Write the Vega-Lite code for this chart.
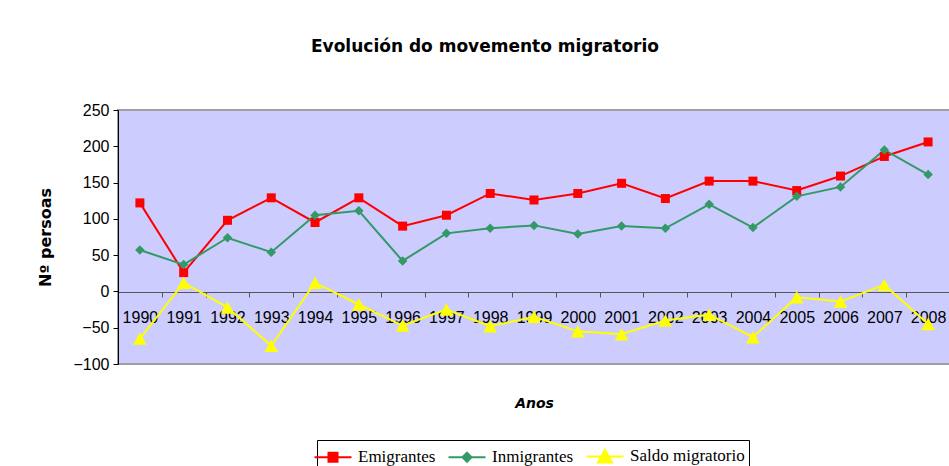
{
  "$schema": "https://vega.github.io/schema/vega-lite/v6.json",
  "width": 832,
  "height": 254,
  "autosize": "none",
  "padding": {"left": 118, "top": 110, "right": 0, "bottom": 102},
  "background": "white",
  "title": {
    "text": "Evolución do movemento migratorio",
    "font": "DejaVu Sans",
    "fontSize": 17,
    "fontWeight": "bold",
    "color": "black",
    "anchor": "middle",
    "dx": -49,
    "offset": 46
  },
  "data": {
    "values": [
      {"ano": "1990", "serie": "Emigrantes", "valor": 122},
      {"ano": "1991", "serie": "Emigrantes", "valor": 26},
      {"ano": "1992", "serie": "Emigrantes", "valor": 98},
      {"ano": "1993", "serie": "Emigrantes", "valor": 129},
      {"ano": "1994", "serie": "Emigrantes", "valor": 95},
      {"ano": "1995", "serie": "Emigrantes", "valor": 129},
      {"ano": "1996", "serie": "Emigrantes", "valor": 90},
      {"ano": "1997", "serie": "Emigrantes", "valor": 105},
      {"ano": "1998", "serie": "Emigrantes", "valor": 135},
      {"ano": "1999", "serie": "Emigrantes", "valor": 126},
      {"ano": "2000", "serie": "Emigrantes", "valor": 135},
      {"ano": "2001", "serie": "Emigrantes", "valor": 149},
      {"ano": "2002", "serie": "Emigrantes", "valor": 128},
      {"ano": "2003", "serie": "Emigrantes", "valor": 152},
      {"ano": "2004", "serie": "Emigrantes", "valor": 152},
      {"ano": "2005", "serie": "Emigrantes", "valor": 139},
      {"ano": "2006", "serie": "Emigrantes", "valor": 159},
      {"ano": "2007", "serie": "Emigrantes", "valor": 186},
      {"ano": "2008", "serie": "Emigrantes", "valor": 206},
      {"ano": "1990", "serie": "Inmigrantes", "valor": 57},
      {"ano": "1991", "serie": "Inmigrantes", "valor": 37},
      {"ano": "1992", "serie": "Inmigrantes", "valor": 74},
      {"ano": "1993", "serie": "Inmigrantes", "valor": 54},
      {"ano": "1994", "serie": "Inmigrantes", "valor": 105},
      {"ano": "1995", "serie": "Inmigrantes", "valor": 111},
      {"ano": "1996", "serie": "Inmigrantes", "valor": 42},
      {"ano": "1997", "serie": "Inmigrantes", "valor": 80},
      {"ano": "1998", "serie": "Inmigrantes", "valor": 87},
      {"ano": "1999", "serie": "Inmigrantes", "valor": 91},
      {"ano": "2000", "serie": "Inmigrantes", "valor": 79},
      {"ano": "2001", "serie": "Inmigrantes", "valor": 90},
      {"ano": "2002", "serie": "Inmigrantes", "valor": 87},
      {"ano": "2003", "serie": "Inmigrantes", "valor": 120},
      {"ano": "2004", "serie": "Inmigrantes", "valor": 88},
      {"ano": "2005", "serie": "Inmigrantes", "valor": 131},
      {"ano": "2006", "serie": "Inmigrantes", "valor": 144},
      {"ano": "2007", "serie": "Inmigrantes", "valor": 195},
      {"ano": "2008", "serie": "Inmigrantes", "valor": 161},
      {"ano": "1990", "serie": "Saldo migratorio", "valor": -65},
      {"ano": "1991", "serie": "Saldo migratorio", "valor": 12},
      {"ano": "1992", "serie": "Saldo migratorio", "valor": -22},
      {"ano": "1993", "serie": "Saldo migratorio", "valor": -75},
      {"ano": "1994", "serie": "Saldo migratorio", "valor": 12},
      {"ano": "1995", "serie": "Saldo migratorio", "valor": -18},
      {"ano": "1996", "serie": "Saldo migratorio", "valor": -47},
      {"ano": "1997", "serie": "Saldo migratorio", "valor": -25},
      {"ano": "1998", "serie": "Saldo migratorio", "valor": -48},
      {"ano": "1999", "serie": "Saldo migratorio", "valor": -35},
      {"ano": "2000", "serie": "Saldo migratorio", "valor": -55},
      {"ano": "2001", "serie": "Saldo migratorio", "valor": -59},
      {"ano": "2002", "serie": "Saldo migratorio", "valor": -40},
      {"ano": "2003", "serie": "Saldo migratorio", "valor": -32},
      {"ano": "2004", "serie": "Saldo migratorio", "valor": -63},
      {"ano": "2005", "serie": "Saldo migratorio", "valor": -8},
      {"ano": "2006", "serie": "Saldo migratorio", "valor": -14},
      {"ano": "2007", "serie": "Saldo migratorio", "valor": 9},
      {"ano": "2008", "serie": "Saldo migratorio", "valor": -45}
    ]
  },
  "encoding": {
    "x": {
      "field": "ano",
      "type": "ordinal",
      "scale": {"type": "band", "paddingInner": 0, "paddingOuter": 0},
      "axis": {
        "title": "Anos",
        "offset": -72,
        "tickBand": "extent",
        "labelAngle": 0,
        "labelFont": "Liberation Sans",
        "labelFontSize": 16,
        "labelColor": "black",
        "labelPadding": 12,
        "tickSize": 5,
        "tickColor": "#555555",
        "domainColor": "#555555",
        "titleFont": "DejaVu Sans",
        "titleFontSize": 14,
        "titleFontWeight": "bold",
        "titleFontStyle": "italic",
        "titleColor": "black",
        "titleY": 111,
        "titleBaseline": "middle",
        "grid": false
      }
    },
    "y": {
      "field": "valor",
      "type": "quantitative",
      "scale": {"domain": [-100, 250], "nice": false},
      "axis": {
        "title": "Nº persoas",
        "values": [-100, -50, 0, 50, 100, 150, 200, 250],
        "labelFont": "Liberation Sans",
        "labelFontSize": 16,
        "labelColor": "black",
        "labelPadding": 4,
        "tickSize": 5,
        "tickColor": "black",
        "domainColor": "black",
        "titleFont": "DejaVu Sans",
        "titleFontSize": 16,
        "titleFontWeight": "bold",
        "titleColor": "black",
        "titleX": -73,
        "titleY": 127,
        "titleBaseline": "middle",
        "titleAlign": "center",
        "grid": false
      }
    }
  },
  "layer": [
    {
      "mark": {"type": "line", "strokeWidth": 2},
      "encoding": {
        "color": {
          "field": "serie",
          "type": "nominal",
          "scale": {
            "domain": ["Emigrantes", "Inmigrantes", "Saldo migratorio"],
            "range": ["#FF0000", "#339966", "#FFFF00"]
          },
          "legend": null
        }
      }
    },
    {
      "mark": {"type": "point", "filled": true, "opacity": 1, "size": 100},
      "encoding": {
        "color": {"field": "serie", "type": "nominal", "legend": null},
        "shape": {
          "field": "serie",
          "type": "nominal",
          "scale": {
            "domain": ["Emigrantes", "Inmigrantes", "Saldo migratorio"],
            "range": ["M-0.9,-0.9H0.9V0.9H-0.9Z", "M0,-0.95L0.95,0L0,0.95L-0.95,0Z", "M0,-1.25L1.35,1.25H-1.35Z"]
          },
          "legend": null
        }
      }
    },
    {
      "transform": [{"filter": "datum.valor > 1000"}],
      "mark": {"type": "point", "filled": true, "opacity": 1, "size": 484, "strokeWidth": 2},
      "encoding": {
        "color": {
          "field": "serie",
          "type": "nominal",
          "legend": {
            "title": null,
            "orient": "none",
            "direction": "horizontal",
            "legendX": 199,
            "legendY": 330,
            "strokeColor": "black",
            "fillColor": "white",
            "padding": 4,
            "labelFont": "Liberation Serif",
            "labelFontSize": 17,
            "labelColor": "black",
            "labelOffset": 13,
            "columnPadding": 8,
            "symbolSize": 484,
            "symbolStrokeWidth": 2
          }
        },
        "stroke": {
          "field": "serie",
          "type": "nominal",
          "scale": {
            "domain": ["Emigrantes", "Inmigrantes", "Saldo migratorio"],
            "range": ["#FF0000", "#339966", "#FFFF00"]
          }
        },
        "shape": {
          "field": "serie",
          "type": "nominal",
          "scale": {
            "domain": ["Emigrantes", "Inmigrantes", "Saldo migratorio"],
            "range": ["M-1.68,0H1.68M-0.41,-0.41H0.41V0.41H-0.41Z", "M-1.68,0H1.68M0,-0.41L0.41,0L0,0.41L-0.41,0Z", "M-1.68,0H1.68M0,-0.6L0.64,0.55H-0.64Z"]
          },
          "legend": {
            "title": null,
            "orient": "none",
            "direction": "horizontal",
            "legendX": 199,
            "legendY": 330,
            "strokeColor": "black",
            "fillColor": "white",
            "padding": 4,
            "labelFont": "Liberation Serif",
            "labelFontSize": 17,
            "labelColor": "black",
            "labelOffset": 13,
            "columnPadding": 8,
            "symbolSize": 484,
            "symbolStrokeWidth": 2
          }
        }
      }
    }
  ],
  "resolve": {
    "scale": {"shape": "independent"},
    "legend": {"shape": "independent", "color": "independent", "stroke": "independent"}
  },
  "config": {
    "view": {"fill": "#CCCCFF", "stroke": "#A0A0A0", "strokeWidth": 2}
  }
}
